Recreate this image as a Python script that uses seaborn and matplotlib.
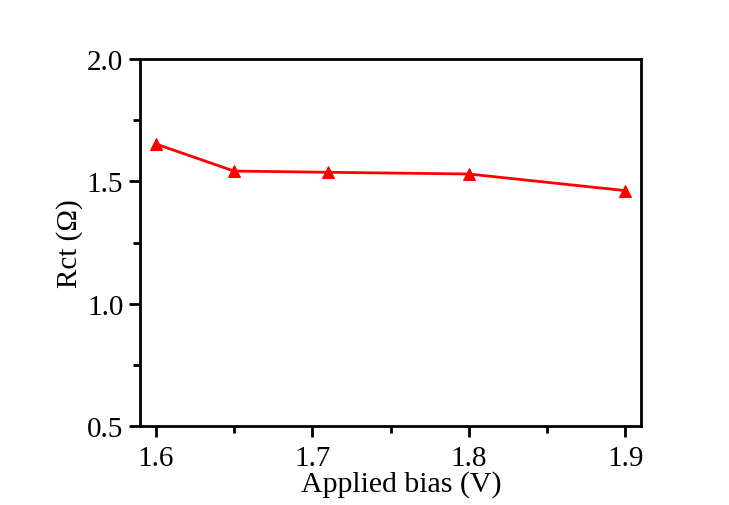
import matplotlib
matplotlib.use("Agg")
import matplotlib.pyplot as plt
import seaborn as sns
import pandas as pd
from matplotlib.ticker import MultipleLocator

bias = [1.60, 1.65, 1.71, 1.80, 1.90]
rct = [1.653, 1.542, 1.537, 1.530, 1.462]
xticks = [1.6, 1.7, 1.8, 1.9]
yticks = [0.5, 1.0, 1.5, 2.0]

sns.set_theme(style="ticks")
plt.rcParams['font.family'] = ['Liberation Serif', 'DejaVu Serif']
plt.rcParams['text.color'] = 'black'
plt.rcParams['axes.labelcolor'] = 'black'

df = pd.DataFrame({"bias": bias, "rct": rct})

fig = plt.figure(figsize=(7.29, 5.06), dpi=100)
ax = fig.add_axes([140/729, 1-427/506, (641-140)/729, (427-60)/506])
sns.lineplot(data=df, x="bias", y="rct", ax=ax, color="#ff0000", lw=2,
             marker="^", markersize=8, markeredgecolor="#ff0000", markerfacecolor="#ff0000")

ax.set_xlim(1.59, 1.91)
ax.set_ylim(0.5, 2.0)
ax.set_xticks(xticks)
ax.set_yticks(yticks)
ax.set_xticklabels([f"{t:.1f}" for t in xticks])
ax.set_yticklabels([f"{t:.1f}" for t in yticks])
ax.xaxis.set_minor_locator(MultipleLocator(0.05))
ax.yaxis.set_minor_locator(MultipleLocator(0.25))
ax.tick_params(axis="both", which="major", direction="out", length=8, width=2,
               labelsize=21, colors="black", pad=4, top=False, right=False)
ax.tick_params(axis="x", which="major", pad=6)
ax.tick_params(axis="both", which="minor", direction="out", length=5, width=2,
               colors="black", top=False, right=False)
for s in ax.spines.values():
    s.set_linewidth(2)
    s.set_color("black")
    s.set_visible(True)
ax.set_xlabel("Applied bias (V)", fontsize=21.5, labelpad=2, color="black")
ax.set_ylabel("Rct (Ω)", fontsize=21, labelpad=3, color="black")
ax.xaxis.set_label_coords(0.521, -0.12)

fig.savefig("out.png", dpi=100)
